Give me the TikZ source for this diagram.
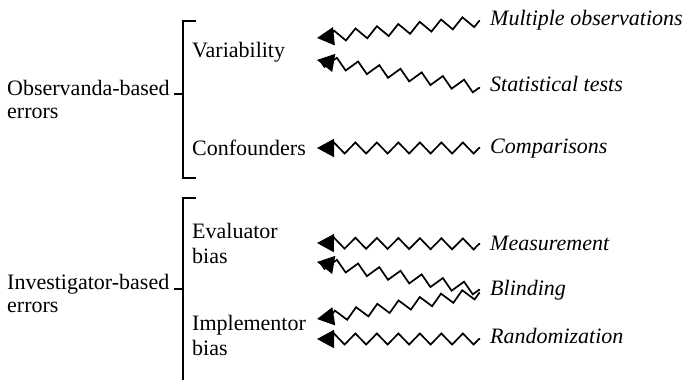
\documentclass[tikz,border=0pt]{standalone}
\usepackage{fontspec}
\setmainfont{Liberation Serif}
\usetikzlibrary{decorations.pathmorphing,arrows.meta}
\begin{document}
\begin{tikzpicture}[x=1pt,y=-1pt,
  lbl/.style={font=\fontsize{22}{23}\selectfont, inner sep=0pt, anchor=base west, align=left},
  src/.style={lbl, font=\fontsize{22}{23}\selectfont\itshape},
  brk/.style={line width=1.4pt},
  zz/.style={line width=1.7pt, decorate,
    decoration={zigzag, segment length=21.5pt, amplitude=5.5pt, pre length=1pt, post length=3pt},
    -{Triangle[length=17pt,width=18pt]}}]
\useasboundingbox (0,0) rectangle (687,380);

% group labels (anchored at the baseline of their last line)
\node[lbl] (obs) at (7,118) {Observanda-based\\errors};
\node[lbl] (inv) at (7,312) {Investigator-based\\errors};

% brackets
\draw[brk] (196,21) -- (183,21) -- (183,178) -- (196,178);
\draw[brk] (174,94) -- (183,94);
\draw[brk] (196,198) -- (183,198) -- (183,380);
\draw[brk] (174,289) -- (183,289);

% error categories
\node[lbl] (var) at (192,57) {Variability};
\node[lbl] (conf) at (192,155) {Confounders};
\node[lbl] (eval) at (192,263) {Evaluator\\[2pt]bias};
\node[lbl] (impl) at (192,355) {Implementor\\[2pt]bias};

% remedies
\node[src] (mo) at (490,25) {Multiple observations};
\node[src] (st) at (490,91) {Statistical tests};
\node[src] (cp) at (490,153) {Comparisons};
\node[src] (ms) at (490,250) {Measurement};
\node[src] (bl) at (490,295) {Blinding};
\node[src] (rd) at (490,343) {Randomization};

% connector ends
\coordinate (mo-a) at (480,21);  \coordinate (mo-b) at (317,38);
\coordinate (st-a) at (480,88);  \coordinate (st-b) at (317,60);
\coordinate (cp-a) at (480,148); \coordinate (cp-b) at (317,148);
\coordinate (ms-a) at (480,244); \coordinate (ms-b) at (317,243);
\coordinate (bl-a) at (480,290); \coordinate (bl-b) at (317,262);
\coordinate (bl-c) at (480,293); \coordinate (bl-d) at (317,319);
\coordinate (rd-a) at (480,339); \coordinate (rd-b) at (317,339);

\draw[zz] (mo-a) -- (mo-b);
\draw[zz] (st-a) -- (st-b);
\draw[zz] (cp-a) -- (cp-b);
\draw[zz] (ms-a) -- (ms-b);
\draw[zz] (bl-a) -- (bl-b);
\draw[zz] (bl-c) -- (bl-d);
\draw[zz] (rd-a) -- (rd-b);
\end{tikzpicture}
\end{document}
